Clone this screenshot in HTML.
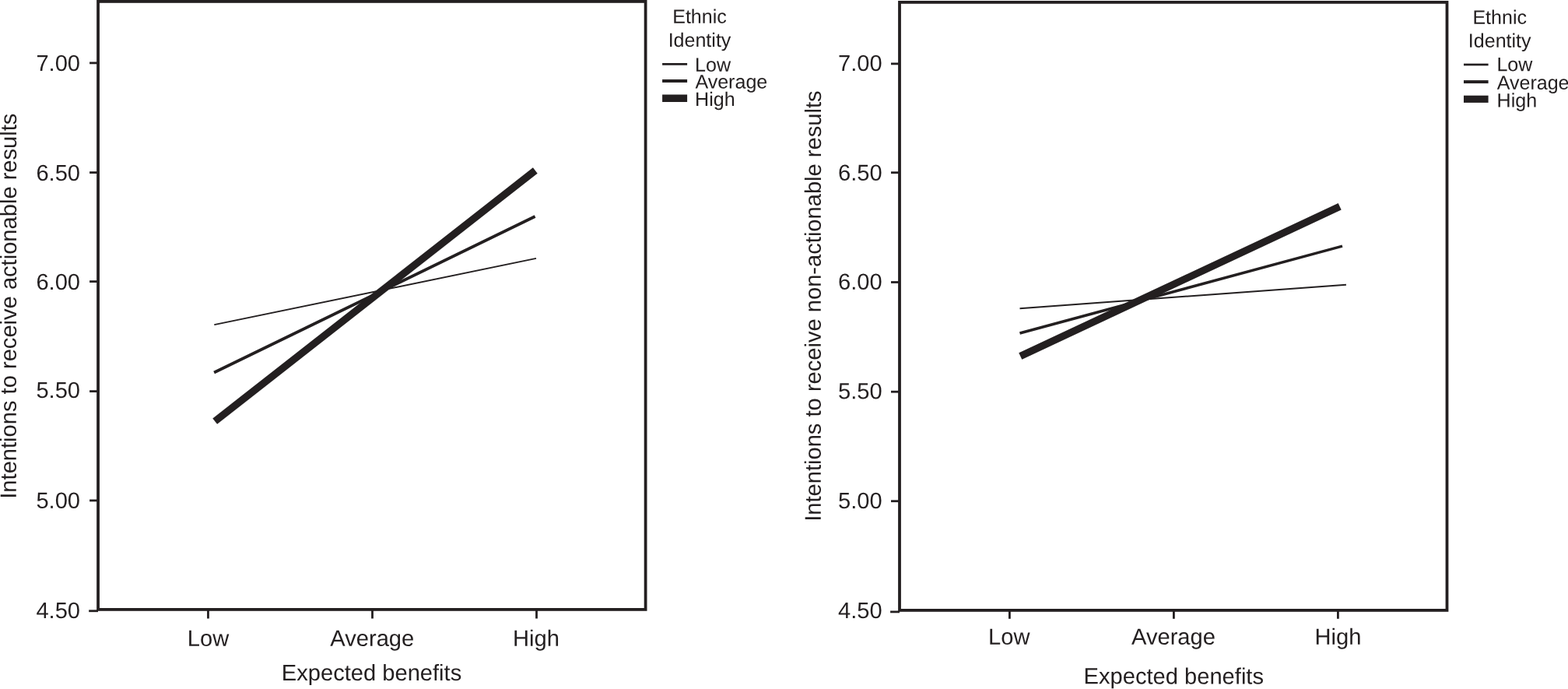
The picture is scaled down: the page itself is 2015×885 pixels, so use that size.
<!DOCTYPE html>
<html lang="en">
<head>
<meta charset="utf-8">
<title>Intentions to receive results by expected benefits and ethnic identity</title>
<style>
html,body{margin:0;padding:0;background:#fff;}
body{width:2015px;height:885px;overflow:hidden;}
svg{display:block;position:absolute;left:0;top:0;}
svg text{font-family:"Liberation Sans",sans-serif;font-size:29.12px;fill:#231f20;stroke:none;}
svg .legend text{font-size:25.05px;}
svg line,svg .frame{stroke:#231f20;stroke-linecap:butt;stroke-linejoin:miter;}
</style>
</head>
<body>
<svg width="2015" height="885" viewBox="0 0 2015 885">
<rect x="0" y="0" width="2015" height="885" fill="#ffffff" stroke="none"/>
<g id="panel1">
<rect class="frame" x="126.05" y="1.9" width="703.55" height="781" fill="none" stroke-width="3.8"/>
<g class="yaxis">
<line x1="115.1" y1="80.9" x2="125" y2="80.9" stroke-width="2.8"/>
<text transform="translate(103.05 91) matrix(1 0.0005 0 1 0 0)" text-anchor="end">7.00</text>
<line x1="115.1" y1="221.6" x2="125" y2="221.6" stroke-width="2.8"/>
<text transform="translate(103.05 232) matrix(1 0.0005 0 1 0 0)" text-anchor="end">6.50</text>
<line x1="115.1" y1="361.6" x2="125" y2="361.6" stroke-width="2.8"/>
<text transform="translate(103.05 372) matrix(1 0.0005 0 1 0 0)" text-anchor="end">6.00</text>
<line x1="115.1" y1="502.6" x2="125" y2="502.6" stroke-width="2.8"/>
<text transform="translate(103.05 511) matrix(1 0.0005 0 1 0 0)" text-anchor="end">5.50</text>
<line x1="115.1" y1="642.9" x2="125" y2="642.9" stroke-width="2.8"/>
<text transform="translate(103.05 652.75) matrix(1 0.0005 0 1 0 0)" text-anchor="end">5.00</text>
<line x1="114.2" y1="784.75" x2="126" y2="784.75" stroke-width="2.8"/>
<text transform="translate(103.05 794) matrix(1 0.0005 0 1 0 0)" text-anchor="end">4.50</text>
</g>
<g class="xaxis">
<line x1="267.45" y1="783" x2="267.45" y2="794.5" stroke-width="2.8"/>
<text transform="translate(267.45 829.85) matrix(1 0.0005 0 1 0 0)" text-anchor="middle">Low</text>
<line x1="478.5" y1="783" x2="478.5" y2="794.5" stroke-width="2.8"/>
<text transform="translate(478.3 829.85) matrix(1 0.0005 0 1 0 0)" text-anchor="middle">Average</text>
<line x1="689.5" y1="783" x2="689.5" y2="794.5" stroke-width="2.8"/>
<text transform="translate(689 829.85) matrix(1 0.0005 0 1 0 0)" text-anchor="middle">High</text>
</g>
<text transform="translate(477.5 874) matrix(1 0.0005 0 1 0 0)" text-anchor="middle">Expected benefits</text>
<text transform="translate(20.9 393.15) rotate(-90) matrix(1 0.0005 0 1 0 0)" text-anchor="middle">Intentions to receive actionable results</text>
<g class="series">
<line x1="275.3" y1="417.1" x2="689" y2="331.9" stroke-width="1.9"/>
<line x1="275.1" y1="478.5" x2="687.6" y2="278" stroke-width="3.85"/>
<line x1="276.2" y1="541.1" x2="687.8" y2="219" stroke-width="9.4"/>
</g>
<g class="legend">
<text transform="translate(899 29.7) matrix(1 0.0005 0 1 0 0)" text-anchor="middle">Ethnic</text>
<text transform="translate(899 59.9) matrix(1 0.0005 0 1 0 0)" text-anchor="middle">Identity</text>
<line x1="851.1" y1="82.45" x2="883.1" y2="82.45" stroke-width="2.7"/>
<text transform="translate(893.1 91.65) matrix(1 0.0005 0 1 0 0)">Low</text>
<line x1="851.1" y1="104.05" x2="883.1" y2="104.05" stroke-width="4"/>
<text transform="translate(893.4 113.4) matrix(1 0.0005 0 1 0 0)">Average</text>
<line x1="851.1" y1="126.3" x2="883.1" y2="126.3" stroke-width="9.4"/>
<text transform="translate(893.1 136) matrix(1 0.0005 0 1 0 0)">High</text>
</g>
</g>
<g id="panel2">
<rect class="frame" x="1156" y="2.9" width="703.5" height="781" fill="none" stroke-width="3.8"/>
<g class="yaxis">
<line x1="1145" y1="81.9" x2="1155" y2="81.9" stroke-width="2.8"/>
<text transform="translate(1133.65 91) matrix(1 0.0005 0 1 0 0)" text-anchor="end">7.00</text>
<line x1="1145" y1="221.7" x2="1155" y2="221.7" stroke-width="2.8"/>
<text transform="translate(1133.65 231.75) matrix(1 0.0005 0 1 0 0)" text-anchor="end">6.50</text>
<line x1="1145" y1="362.5" x2="1155" y2="362.5" stroke-width="2.8"/>
<text transform="translate(1133.65 371.75) matrix(1 0.0005 0 1 0 0)" text-anchor="end">6.00</text>
<line x1="1145" y1="503.2" x2="1155" y2="503.2" stroke-width="2.8"/>
<text transform="translate(1133.65 512.25) matrix(1 0.0005 0 1 0 0)" text-anchor="end">5.50</text>
<line x1="1145" y1="643.7" x2="1155" y2="643.7" stroke-width="2.8"/>
<text transform="translate(1133.65 653) matrix(1 0.0005 0 1 0 0)" text-anchor="end">5.00</text>
<line x1="1144.1" y1="785.9" x2="1156" y2="785.9" stroke-width="2.8"/>
<text transform="translate(1133.65 794) matrix(1 0.0005 0 1 0 0)" text-anchor="end">4.50</text>
</g>
<g class="xaxis">
<line x1="1297.4" y1="784" x2="1297.4" y2="794.8" stroke-width="2.8"/>
<text transform="translate(1296.7 827.75) matrix(1 0.0005 0 1 0 0)" text-anchor="middle">Low</text>
<line x1="1508.4" y1="784" x2="1508.4" y2="794.8" stroke-width="2.8"/>
<text transform="translate(1508 827.75) matrix(1 0.0005 0 1 0 0)" text-anchor="middle">Average</text>
<line x1="1719.4" y1="784" x2="1719.4" y2="794.8" stroke-width="2.8"/>
<text transform="translate(1719.5 827.75) matrix(1 0.0005 0 1 0 0)" text-anchor="middle">High</text>
</g>
<text transform="translate(1508.3 878.4) matrix(1 0.0005 0 1 0 0)" text-anchor="middle">Expected benefits</text>
<text transform="translate(1054.8 393.1) rotate(-90) matrix(1 0.0005 0 1 0 0)" text-anchor="middle">Intentions to receive non-actionable results</text>
<g class="series">
<line x1="1310.5" y1="396.3" x2="1729.9" y2="365.7" stroke-width="1.9"/>
<line x1="1310.5" y1="428" x2="1725" y2="316.1" stroke-width="3.5"/>
<line x1="1311.3" y1="457.4" x2="1721.7" y2="265.3" stroke-width="9.4"/>
</g>
<g class="legend">
<text transform="translate(1927.2 30.8) matrix(1 0.0005 0 1 0 0)" text-anchor="middle">Ethnic</text>
<text transform="translate(1927.2 60.85) matrix(1 0.0005 0 1 0 0)" text-anchor="middle">Identity</text>
<line x1="1881" y1="83" x2="1912.6" y2="83" stroke-width="2.7"/>
<text transform="translate(1923.4 91.25) matrix(1 0.0005 0 1 0 0)">Low</text>
<line x1="1881" y1="105.1" x2="1912.6" y2="105.1" stroke-width="4"/>
<text transform="translate(1923.7 114.75) matrix(1 0.0005 0 1 0 0)">Average</text>
<line x1="1881" y1="127.3" x2="1912.6" y2="127.3" stroke-width="9.2"/>
<text transform="translate(1923.6 137.6) matrix(1 0.0005 0 1 0 0)">High</text>
</g>
</g>
</svg>
</body>
</html>
